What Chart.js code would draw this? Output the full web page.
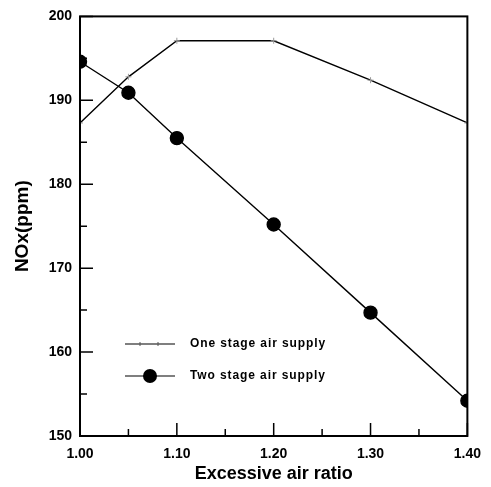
<!DOCTYPE html>
<html lang="en">
<head>
<meta charset="UTF-8">
<title>NOx vs excessive air ratio</title>
<script src="https://cdn.jsdelivr.net/npm/chart.js"></script>
<style>
  body { margin: 0; background: #fff; }
  #wrap { width: 491px; height: 487px; }
</style>
</head>
<body>
<div id="wrap"><canvas id="myChart" width="491" height="487"></canvas></div>
<script>
// data
const airRatio = [1.00, 1.05, 1.10, 1.20, 1.30, 1.40];
const oneStage = [187.3, 192.8, 197.1, 197.1, 192.4, 187.3];
const twoStage = [194.6, 190.9, 185.5, 175.2, 164.7, 154.2];
const seriesNames = ['One stage air supply', 'Two stage air supply'];
const xTickLabels = ['1.00', '1.10', '1.20', '1.30', '1.40'];
const yTickLabels = ['150', '160', '170', '180', '190', '200'];

const fontFam = '"Liberation Sans", Arial, sans-serif';

// inward tick marks, frame box and the inner legend
const framePlugin = {
  id: 'frame',
  afterDraw(chart) {
    const ctx = chart.ctx;
    const a = chart.chartArea;
    const xs = chart.scales.x, ys = chart.scales.y;
    ctx.save();
    ctx.strokeStyle = '#000';
    ctx.lineWidth = 2;
    ctx.strokeRect(a.left, a.top, a.right - a.left, a.bottom - a.top);

    ctx.lineWidth = 1.5;
    ctx.beginPath();
    for (let v = 150; v <= 200; v += 5) {
      const y = ys.getPixelForValue(v);
      const len = (v % 10 === 0) ? 13 : 7;
      ctx.moveTo(a.left, y); ctx.lineTo(a.left + len, y);
    }
    for (let i = 0; i <= 8; i++) {
      const v = 1.0 + i * 0.05;
      const x = xs.getPixelForValue(v);
      const len = (i % 2 === 0) ? 13 : 7;
      ctx.moveTo(x, a.bottom); ctx.lineTo(x, a.bottom - len);
    }
    ctx.stroke();

    // legend
    const rows = [344, 376];
    chart.data.datasets.forEach((ds, i) => {
      const y = rows[i];
      ctx.strokeStyle = '#000';
      ctx.lineWidth = 1.2;
      ctx.beginPath();
      ctx.moveTo(125, y); ctx.lineTo(175, y);
      ctx.stroke();
      if (i === 0) {
        ctx.lineWidth = 1;
        ctx.strokeStyle = '#555';
        ctx.beginPath();
        ctx.moveTo(140, y - 2); ctx.lineTo(140, y + 2);
        ctx.moveTo(158, y - 2); ctx.lineTo(158, y + 2);
        ctx.stroke();
      } else {
        ctx.fillStyle = '#000';
        ctx.beginPath();
        ctx.arc(150, y, 7, 0, Math.PI * 2);
        ctx.fill();
      }
      ctx.fillStyle = '#000';
      ctx.font = 'bold 12px ' + fontFam;
      ctx.letterSpacing = '0.9px';
      ctx.textBaseline = 'middle';
      ctx.textAlign = 'left';
      ctx.fillText(ds.label, 190, y);
    });
    ctx.restore();
  }
};

const config = {
  type: 'scatter',
  data: {
    datasets: [
      {
        label: seriesNames[0],
        data: airRatio.map((x, i) => ({ x: x, y: oneStage[i] })),
        showLine: true,
        borderColor: '#000',
        borderWidth: 1.4,
        pointStyle: 'cross',
        pointRadius: 3,
        pointBorderColor: '#999',
        pointBorderWidth: 1,
        tension: 0
      },
      {
        label: seriesNames[1],
        data: airRatio.map((x, i) => ({ x: x, y: twoStage[i] })),
        showLine: true,
        borderColor: '#000',
        borderWidth: 1.4,
        pointStyle: 'circle',
        pointRadius: 6.5,
        pointBackgroundColor: '#000',
        pointBorderColor: '#000',
        tension: 0
      }
    ]
  },
  options: {
    responsive: false,
    animation: false,
    layout: { padding: { left: 11, top: 11, right: 23, bottom: 2 } },
    plugins: { legend: { display: false }, tooltip: { enabled: false } },
    scales: {
      x: {
        type: 'linear',
        min: 1.0, max: 1.4,
        grid: { display: false, drawTicks: false },
        border: { display: false },
        ticks: {
          stepSize: 0.1,
          padding: 10,
          color: '#000',
          font: { family: fontFam, size: 14, weight: 'bold' },
          callback: (v) => {
            const s = v.toFixed(2);
            return xTickLabels.includes(s) ? s : '';
          }
        },
        title: {
          display: true,
          text: 'Excessive air ratio',
          color: '#000',
          font: { family: fontFam, size: 18, weight: 'bold' },
          padding: { top: 2, bottom: 0 }
        },
        afterFit: (s) => { s.height = 487 - 436 - 2; }
      },
      y: {
        min: 150, max: 200,
        grid: { display: false, drawTicks: false },
        border: { display: false },
        ticks: {
          stepSize: 10,
          padding: 8,
          color: '#000',
          font: { family: fontFam, size: 14, weight: 'bold' },
          callback: (v) => yTickLabels.includes(String(v)) ? String(v) : ''
        },
        title: {
          display: true,
          text: 'NOx(ppm)',
          color: '#000',
          font: { family: fontFam, size: 19, weight: 'bold' },
          padding: { top: 0, bottom: 10 }
        },
        afterFit: (s) => { s.width = 80 - 11; }
      }
    }
  },
  plugins: [framePlugin]
};

const myChart = new Chart(document.querySelector('#myChart'), config);
</script>
</body>
</html>
